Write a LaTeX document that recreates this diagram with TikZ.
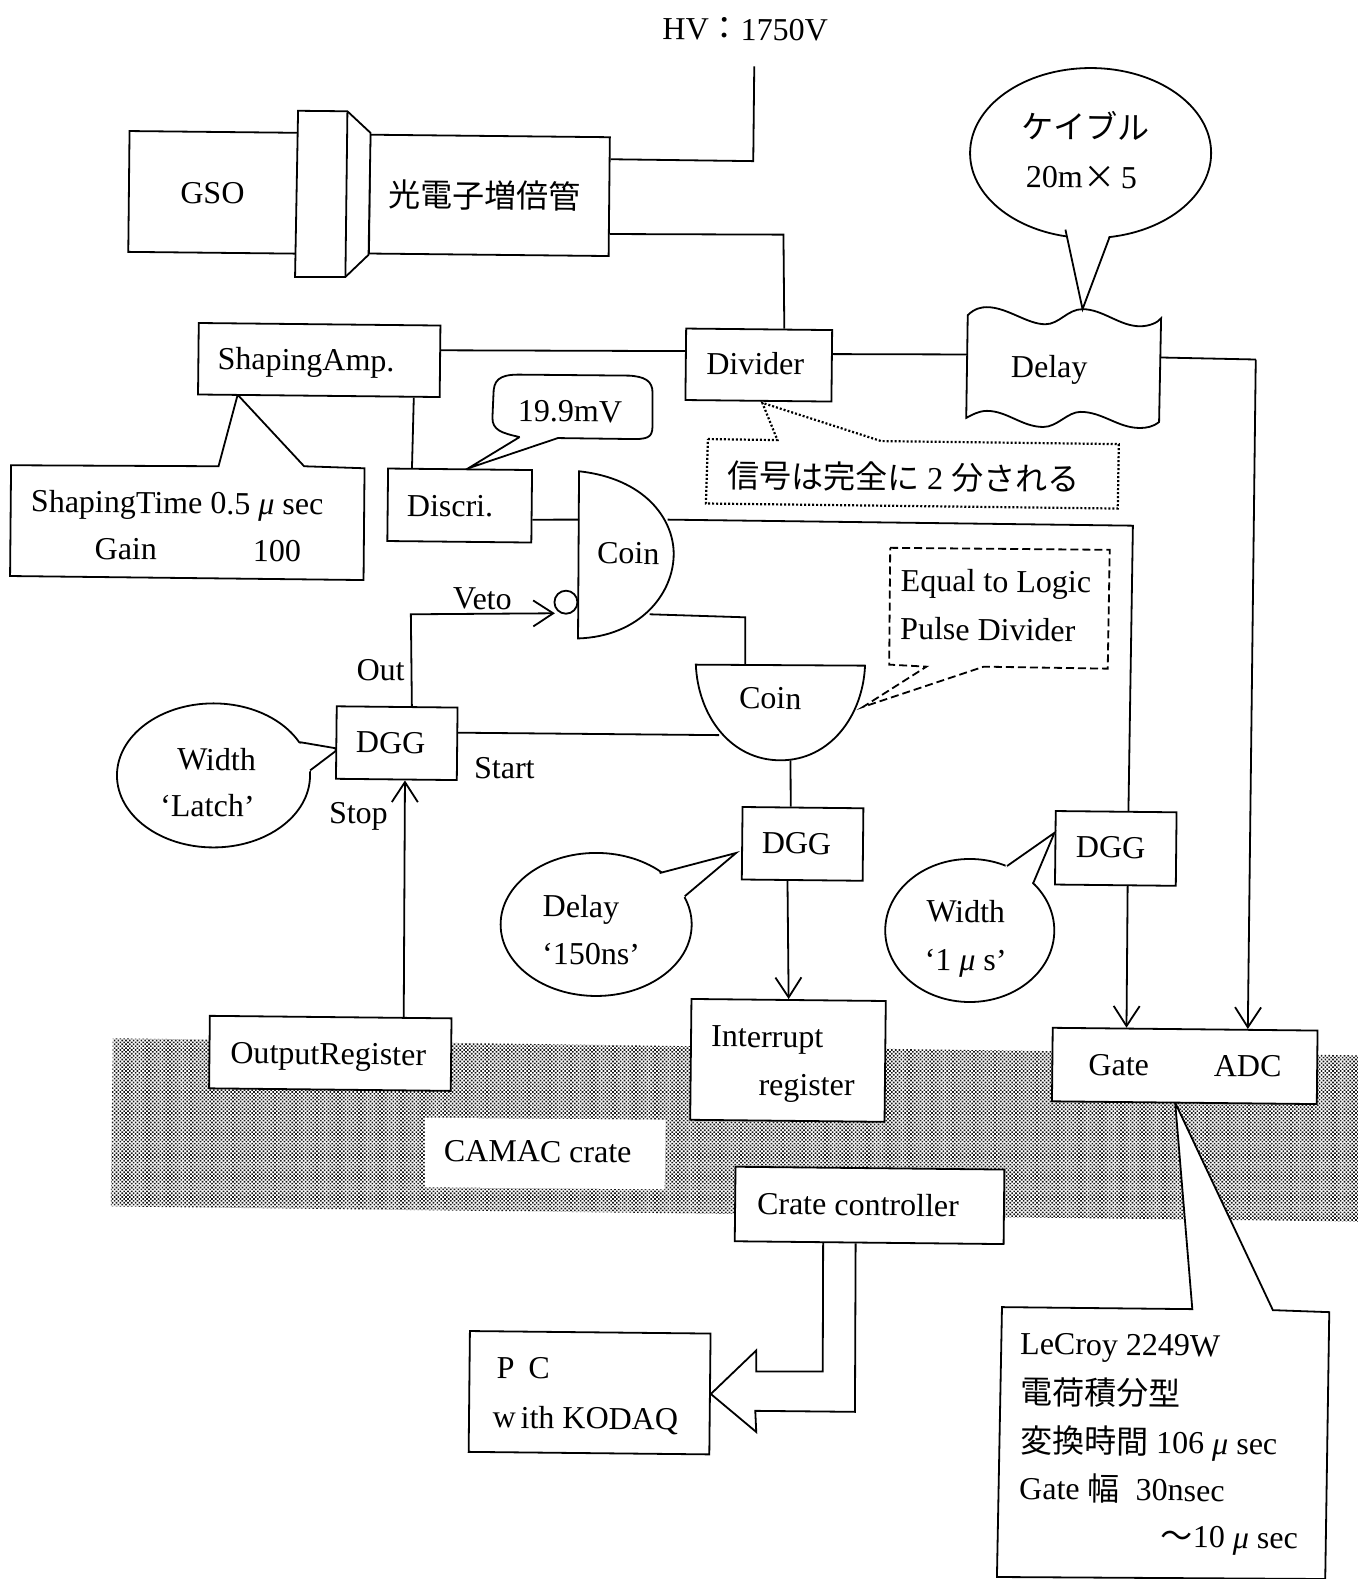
\documentclass[tikz,border=0pt]{standalone}
\usepackage{fontspec}
\setmainfont{Liberation Serif}
\newfontfamily\cjk{Noto Sans CJK JP}
\usetikzlibrary{calc,arrows.meta,shapes.geometric,patterns.meta}
\tikzset{
  ln/.style={line width=1.8pt,line join=miter,black},
  box/.style={ln,draw,fill=white,rectangle,rotate=-0.6,inner sep=0pt},
  lab/.style={font=\fontsize{32}{38}\selectfont,inner sep=0pt,rotate=-0.6,text height=22pt,text depth=0pt},
  arw/.style={ln,-{Straight Barb[length=20pt,width=26pt,line width=1.8pt]}},
  bub/.style={ln,draw,fill=white,ellipse,inner sep=0pt},
  band/.style={pattern={Dots[radius=1.15pt,distance=2.7pt,angle=45]},pattern color=black!90},
}
\newcommand{\bx}[5]{%
  \pgfmathsetmacro\myX{(#1+#3)/2}\pgfmathsetmacro\myY{(#2+#4)/2}%
  \pgfmathsetmacro\myW{(#3-#1)*1.0067}\pgfmathsetmacro\myH{(#4-#2)*1.0067}%
  \node[box,minimum width=\myW pt,minimum height=\myH pt] (#5) at (\myX,\myY) {};}
\newcommand{\um}{{\itshape μ}}
\begin{document}
\begin{tikzpicture}[x=1.0067pt,y=-1.0067pt]
\useasboundingbox (0,0) rectangle (1349,1568);
% CAMAC band
\fill[band] (112,1031) -- (1349,1048) -- (1349,1213) -- (110,1198) -- cycle;
\fill[white] (422,1110) -- (661,1112) -- (660,1181) -- (422,1179) -- cycle;
\node[lab] (camac) at (534,1143) {CAMAC crate};

% PMT group
\bx{128}{131}{296}{251}{gso}
\bx{367}{135}{605}{253}{pmt}
\draw[ln,fill=white] (296,110) -- (345,110.5) -- (368,132) -- (366,253) -- (343,275) -- (293,275) -- cycle;
\draw[ln] (345,110.5) -- (343,275);
\node[lab] (tgso) at (211,191) {GSO};
\node[lab] (tpmt) at (481,195) {\cjk 光電子増倍管};
\node[lab] (hv) at (740,29) {HV{\cjk ：}1750V};
\coordinate (hvtop) at (749,66);
\coordinate (hvbend) at (748,160);
\draw[ln] (hvtop) -- (hvbend) -- ($(pmt.north east)!.19!(pmt.south east)$);

% callouts behind boxes
\draw[ln,fill=white] (11,462) -- (217,463) -- (236,392) -- (302,463) -- (362,465) -- (361,576) -- (10,572) -- cycle;
\draw[line width=2.2pt,dash pattern=on 2pt off 2pt,fill=white] (703,436) -- (772,437) -- (757,400) -- (875,438) -- (1111,441) -- (1110,505) -- (701,500) -- cycle;
\draw[ln,fill=white] (516,434) -- (465,465) -- (554,435) -- (630,436) .. controls (647,436) and (648,432) .. (648,420) -- (648,390) .. controls (648,378) and (640,374) .. (625,373) -- (515,372) .. controls (495,372) and (490,378) .. (490,392) -- (489,415) .. controls (489,427) and (498,430) .. (516,434);
\node[lab] (tnine) at (566,408) {19.9mV};

\bx{197}{322}{437}{393}{shape}
\node[lab] (tshape) at (304,357) {ShapingAmp.};
\bx{681}{327}{826}{398}{divider}
\node[lab] (tdiv) at (750,361) {Divider};
\coordinate (pmtbend) at (778,233);
\draw[ln] ($(pmt.north east)!.81!(pmt.south east)$) -- (pmtbend) -- ($(divider.north west)!.67!(divider.north east)$);
\draw[ln] ($(shape.north east)!.35!(shape.south east)$) -- ($(divider.north west)!.32!(divider.south west)$);

% Delay
\node[lab] (tdelay) at (1042,364) {Delay};
\coordinate (delayin) at (961,352);
\coordinate (delayout) at (1153,355);
\coordinate (delaytop) at (1075,307);
\draw[ln] (961,313) .. controls (968,306) and (975,305) .. (980,305) .. controls (1000,305) and (1020,322) .. (1038,322) .. controls (1052,322) and (1060,307) .. (1075,307) .. controls (1095,307) and (1112,324) .. (1132,324) .. controls (1142,324) and (1150,320) .. (1153,316) -- (1151,419) .. controls (1145,424) and (1138,425) .. (1132,425) .. controls (1110,425) and (1095,409) .. (1073,409) .. controls (1060,409) and (1050,424) .. (1036,424) .. controls (1015,424) and (1000,408) .. (980,408) .. controls (972,408) and (965,412) .. (959.5,415) -- cycle;
\draw[ln] ($(divider.north east)!.34!(divider.south east)$) -- (delayin);

% Cable balloon
\node[bub,minimum width=241pt,minimum height=170pt] (cable) at (1083,152) {};
\fill[white] (1058,226) -- (1075,307) -- (1102,232) -- cycle;
\draw[ln] (1058,228) -- (delaytop) -- (1102,235);
\node[lab] (tcable) at (1078,127) {\cjk ケイブル};
\node[lab] (tcable2) at (1074,176) {20m\hspace{1pt}{\cjk ×}\hspace{5pt}5};

% Shaping labels
\node[lab] (tst) at (176,499) {ShapingTime 0.5 \um\ sec};
\node[lab] (tgain) at (125,545) {Gain};
\node[lab] (tgainv) at (275,547) {100};
\node[lab] (tsig) at (897,475) {{\cjk 信号は完全に} 2 {\cjk 分される}};

% Discri
\bx{385}{466}{528}{538}{discri}
\node[lab] (tdis) at (447,502) {Discri.};
\draw[ln] ($(shape.south west)!.89!(shape.south east)$) -- ($(discri.north west)!.17!(discri.north east)$);

% Coin 1
\node[ln,draw,circle,minimum size=23pt,inner sep=0pt] (vetoc) at (562,598) {};
\draw[ln,fill=white] (575,468) .. controls (640,475) and (669,515) .. (669,550) .. controls (669,590) and (635,632) .. (574,634) -- cycle;
\node[lab] (tc1) at (624,549) {Coin};
\coordinate (c1in) at (575,516);
\coordinate (c1out) at (663,516);
\coordinate (c1low) at (645,610);
\draw[ln] ($(discri.north east)!.68!(discri.south east)$) -- (c1in);

% Coin 2
\draw[ln,fill=white] (691,660) -- (859,661) .. controls (857,710) and (825,755) .. (775,755) .. controls (725,755) and (693,710) .. (691,660) -- cycle;
\node[lab] (tc2) at (765,693) {Coin};
\coordinate (c2top) at (740,660);
\coordinate (c2left) at (714,730);
\coordinate (c2bot) at (785,755);
\coordinate (lowbend) at (740,613);
\draw[ln] (c1low) -- (lowbend) -- (c2top);

% dashed callout
\draw[ln,dash pattern=on 8pt off 4pt] (884,544) -- (1102,546) -- (1100,664) -- (977,662) -- (857,702) -- (920,662) -- (883,660) -- cycle;
\node[lab] (teq) at (989,577) {Equal to Logic};
\node[lab] (tpd) at (981,625) {Pulse Divider};

% DGG 1
\bx{334}{702}{454}{774}{dgga}
\node[lab] (tdgga) at (388,737) {DGG};
\coordinate (vetobend) at (408,610);
\coordinate (vetoend) at (551,609);
\draw[arw] ($(dgga.north west)!.62!(dgga.north east)$) -- (vetobend) -- (vetoend);
\draw[ln] ($(dgga.north east)!.35!(dgga.south east)$) -- (c2left);
\node[lab] (tveto) at (479,594) {Veto};
\node[lab] (tout) at (378,665) {Out};
\node[lab] (tstart) at (501,762) {Start};
\node[lab] (tstop) at (356,807) {Stop};

% Width Latch balloon
\node[bub,minimum width=193pt,minimum height=144pt] (lat) at (212,770) {};
\fill[white] (296,738) -- (333,743) -- (333,746) -- (306,767) -- cycle;
\draw[ln] (298,737) -- (dgga.west |- 0,743) -- (dgga.west |- 0,746) -- (308,765);
\node[lab] (tw1) at (215,754) {Width};
\node[lab] (tw2) at (206,800) {‘Latch’};

% DGG 2
\bx{737}{802}{857}{874}{dggb}
\node[lab] (tdggb) at (791,837) {DGG};
\draw[ln] (c2bot) -- ($(dggb.north west)!.4!(dggb.north east)$);

\node[bub,minimum width=191pt,minimum height=143pt] (delb) at (592,918) {};
\fill[white] (652,868) -- (731,847) -- (678,892) -- cycle;
\draw[ln] (655,867) -- (731,847) -- (680,890);
\node[lab] (td1) at (577,900) {Delay};
\node[lab] (td2) at (587,947) {‘150ns’};

% DGG 3
\bx{1048}{806}{1168}{879}{dggc}
\node[lab] (tdggc) at (1103,841) {DGG};
\node[bub,minimum width=169pt,minimum height=143pt] (widb) at (963,924) {};
\fill[white] (998,860) -- (1048,827) -- (1024,879) -- cycle;
\draw[ln] (1000,860) -- (dggc.west |- 0,827) -- (1026,877);
\node[lab] (tw3) at (959,905) {Width};
\node[lab] (tw4) at (959,953) {‘1 \um\ s’};
\coordinate (outbend) at (1125,522);
\draw[ln] (c1out) -- (outbend) -- ($(dggc.north west)!.6!(dggc.north east)$);

% Registers
\bx{208}{1010}{448}{1082}{outreg}
\node[lab] (toutreg) at (326,1046) {OutputRegister};
\draw[arw] ($(outreg.north west)!.8!(outreg.north east)$) -- ($(dgga.south west)!.57!(dgga.south east)$);

\bx{686}{993}{879}{1113}{intreg}
\node[lab] (tint1) at (762,1029) {Interrupt};
\node[lab] (tint2) at (801,1077) {register};
\draw[arw] ($(dggb.south west)!.38!(dggb.south east)$) -- ($(intreg.north west)!.5!(intreg.north east)$);

% LeCroy callout
\draw[ln,fill=white] (1167,1095) -- (1184,1300) -- (995,1298) -- (990,1566) -- (1316,1568) -- (1320,1303) -- (1264,1301) -- cycle;
\bx{1045}{1022}{1308}{1095}{adc}
\node[lab] (tgate) at (1111,1057) {Gate};
\node[lab] (tadc) at (1239,1058) {ADC};
\draw[arw] ($(dggc.south west)!.6!(dggc.south east)$) -- ($(adc.north west)!.28!(adc.north east)$);
\coordinate (delaybend) at (1247,357);
\draw[ln] (delayout) -- (delaybend);
\draw[arw] (delaybend) -- ($(adc.north west)!.735!(adc.north east)$);
\node[lab,anchor=west] (tl1) at (1013,1334) {LeCroy 2249W};
\node[lab,anchor=west] (tl2) at (1013,1383) {\cjk 電荷積分型};
\node[lab,anchor=west] (tl3) at (1013,1431) {{\cjk 変換時間} 106 \um\ sec};
\node[lab,anchor=west] (tl4) at (1012,1478) {Gate {\cjk 幅}\ \ 30nsec};
\node[lab,anchor=east] (tl5) at (1289,1527) {{\cjk ～}10 \um\ sec};

% Crate controller and PC
\bx{730}{1160}{997}{1234}{crate}
\node[lab] (tcrate) at (852,1196) {Crate controller};
\bx{466}{1323}{705}{1443}{pc}
\node[lab,anchor=west] (tpc1) at (493,1358) {P\hspace{14pt}C};
\node[lab,anchor=west] (tpc2) at (489,1407) {w\hspace{5pt}ith KODAQ};
\draw[ln] ($(crate.south west)!.33!(crate.south east)$) -- (817,1362) -- (751,1362) -- (751,1341) -- (pc.east) -- (751,1422) -- (750,1401) -- (849,1402) -- ($(crate.south west)!.45!(crate.south east)$);
\end{tikzpicture}
\end{document}
